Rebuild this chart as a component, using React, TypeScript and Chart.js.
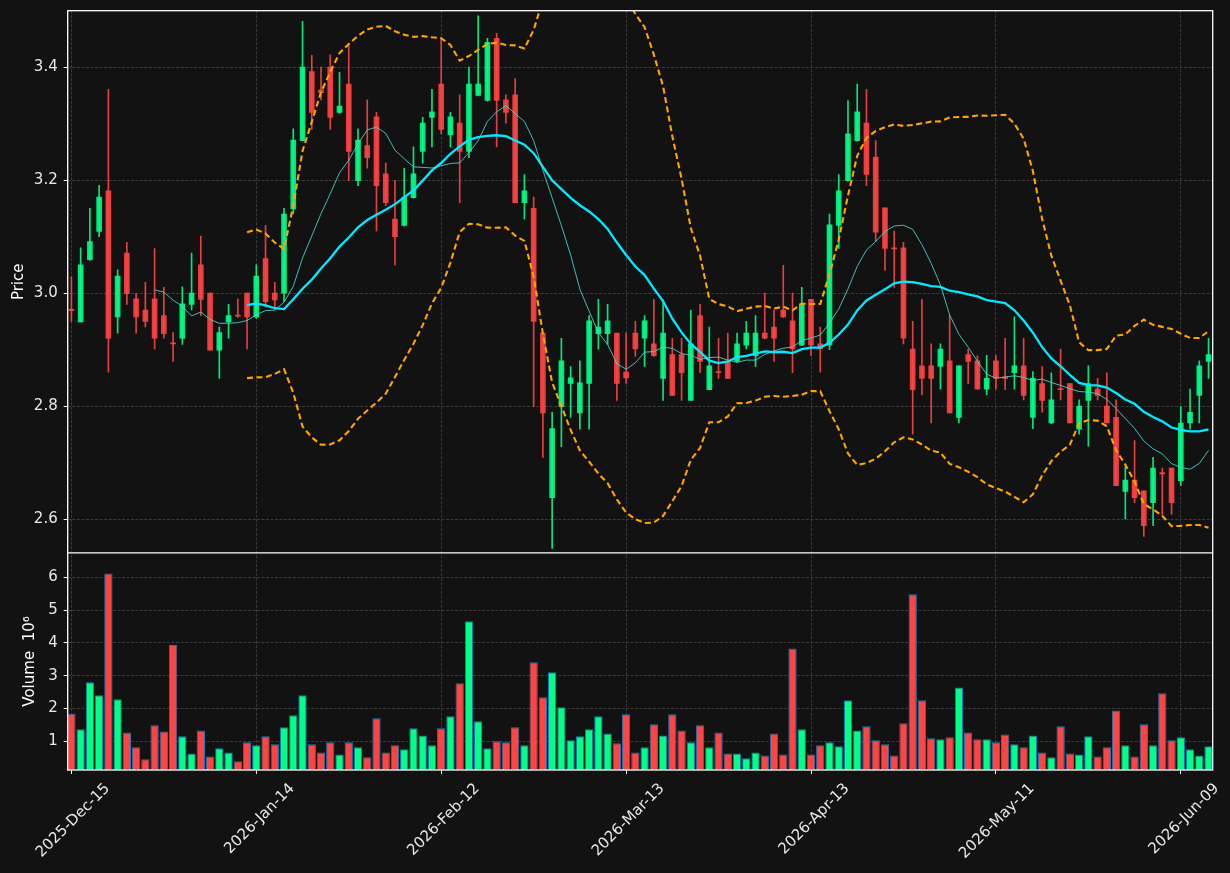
import React, { useEffect, useRef } from 'react';
import { Chart, registerables } from 'chart.js';

Chart.register(...registerables);

// ---- data (prices in currency units, volume in millions) ----
const tickLabels = ['2025-Dec-15', '2026-Jan-14', '2026-Feb-12', '2026-Mar-13', '2026-Apr-13', '2026-May-11', '2026-Jun-09'];
const tickIndex = [0, 20, 40, 60, 80, 100, 120];
const priceTicks = [2.6, 2.8, 3.0, 3.2, 3.4];
const volumeTicks = [1, 2, 3, 4, 5, 6];

const opens = [
  2.971, 2.949, 3.059, 3.109, 3.181, 2.958, 3.071, 2.990, 2.970, 2.990,
  2.960, 2.911, 2.920, 2.980, 3.050, 3.000, 2.899, 2.949, 2.960, 3.000,
  2.958, 3.061, 3.000, 3.000, 3.149, 3.270, 3.392, 3.360, 3.400, 3.320,
  3.370, 3.199, 3.261, 3.312, 3.211, 3.131, 3.120, 3.169, 3.251, 3.311,
  3.370, 3.280, 3.301, 3.251, 3.350, 3.341, 3.451, 3.342, 3.351, 3.160,
  3.150, 2.929, 2.638, 2.799, 2.840, 2.788, 2.840, 2.928, 2.928, 2.929,
  2.860, 2.929, 2.920, 2.910, 2.849, 2.891, 2.891, 2.810, 2.960, 2.829,
  2.860, 2.879, 2.879, 2.908, 2.889, 2.929, 2.940, 2.970, 2.951, 2.908,
  2.989, 2.910, 2.908, 3.120, 3.199, 3.270, 3.301, 3.241, 3.151, 3.079,
  3.080, 2.901, 2.871, 2.871, 2.870, 2.880, 2.780, 2.891, 2.880, 2.830,
  2.880, 2.850, 2.859, 2.871, 2.780, 2.840, 2.770, 2.830, 2.840, 2.759,
  2.810, 2.830, 2.800, 2.780, 2.649, 2.669, 2.650, 2.629, 2.681, 2.690,
  2.668, 2.770, 2.819, 2.879,
];
const highs = [
  3.029, 3.080, 3.150, 3.191, 3.361, 3.041, 3.090, 2.999, 3.019, 3.079,
  3.010, 2.930, 3.011, 3.071, 3.101, 3.000, 2.940, 2.980, 2.990, 3.000,
  3.050, 3.120, 3.019, 3.150, 3.291, 3.481, 3.421, 3.400, 3.422, 3.391,
  3.441, 3.291, 3.342, 3.320, 3.230, 3.199, 3.221, 3.259, 3.311, 3.361,
  3.453, 3.320, 3.351, 3.400, 3.491, 3.451, 3.460, 3.351, 3.380, 3.210,
  3.170, 2.929, 2.789, 2.920, 2.870, 2.880, 2.960, 2.989, 2.980, 2.929,
  2.929, 2.950, 2.960, 2.989, 2.988, 2.920, 2.920, 2.970, 2.980, 2.940,
  2.920, 2.929, 2.929, 2.950, 2.960, 3.000, 2.970, 3.049, 3.000, 3.010,
  2.989, 2.940, 3.140, 3.210, 3.341, 3.370, 3.361, 3.270, 3.151, 3.110,
  3.090, 2.950, 2.989, 2.910, 2.910, 2.960, 2.871, 2.901, 2.889, 2.890,
  2.890, 2.920, 2.958, 2.920, 2.861, 2.870, 2.859, 2.901, 2.840, 2.811,
  2.871, 2.849, 2.859, 2.811, 2.693, 2.739, 2.650, 2.709, 2.690, 2.690,
  2.799, 2.830, 2.880, 2.920,
];
const lows = [
  2.950, 2.949, 3.058, 3.100, 2.860, 2.929, 2.980, 2.929, 2.940, 2.901,
  2.920, 2.879, 2.909, 2.970, 2.960, 2.899, 2.849, 2.920, 2.957, 2.901,
  2.955, 2.975, 2.975, 2.985, 3.140, 3.270, 3.290, 3.342, 3.290, 3.318,
  3.199, 3.190, 3.221, 3.110, 3.155, 3.050, 3.119, 3.168, 3.230, 3.259,
  3.282, 3.259, 3.160, 3.240, 3.349, 3.340, 3.259, 3.301, 3.160, 3.131,
  2.799, 2.709, 2.548, 2.728, 2.780, 2.759, 2.759, 2.901, 2.909, 2.810,
  2.840, 2.888, 2.870, 2.888, 2.810, 2.819, 2.810, 2.810, 2.859, 2.829,
  2.849, 2.849, 2.878, 2.901, 2.870, 2.919, 2.879, 2.957, 2.859, 2.907,
  2.889, 2.860, 2.900, 3.079, 3.198, 3.269, 3.190, 3.091, 3.040, 3.010,
  2.910, 2.750, 2.820, 2.770, 2.830, 2.788, 2.770, 2.840, 2.830, 2.820,
  2.830, 2.829, 2.830, 2.811, 2.760, 2.789, 2.769, 2.811, 2.770, 2.750,
  2.729, 2.811, 2.770, 2.659, 2.600, 2.629, 2.569, 2.588, 2.608, 2.608,
  2.659, 2.759, 2.770, 2.849,
];
const closes = [
  2.969, 3.050, 3.091, 3.170, 2.920, 3.030, 2.999, 2.958, 2.950, 2.920,
  2.928, 2.910, 2.981, 3.000, 2.989, 2.899, 2.930, 2.960, 2.959, 2.958,
  3.030, 2.985, 2.988, 3.140, 3.271, 3.400, 3.320, 3.355, 3.311, 3.331,
  3.251, 3.271, 3.240, 3.190, 3.160, 3.100, 3.170, 3.211, 3.301, 3.321,
  3.290, 3.312, 3.251, 3.370, 3.370, 3.444, 3.341, 3.320, 3.160, 3.181,
  2.950, 2.788, 2.760, 2.880, 2.850, 2.841, 2.951, 2.940, 2.951, 2.840,
  2.850, 2.901, 2.951, 2.889, 2.929, 2.819, 2.859, 2.910, 2.879, 2.871,
  2.859, 2.849, 2.910, 2.929, 2.929, 2.920, 2.920, 2.958, 2.901, 2.981,
  2.908, 2.901, 3.121, 3.181, 3.282, 3.321, 3.210, 3.108, 3.079, 3.078,
  2.920, 2.829, 2.849, 2.849, 2.901, 2.788, 2.871, 2.879, 2.830, 2.849,
  2.849, 2.849, 2.871, 2.819, 2.849, 2.810, 2.811, 2.829, 2.770, 2.800,
  2.840, 2.819, 2.770, 2.659, 2.669, 2.638, 2.588, 2.690, 2.680, 2.629,
  2.770, 2.789, 2.871, 2.891,
];
const volumes = [
  1.84, 1.37, 2.80, 2.40, 6.11, 2.28, 1.27, 0.82, 0.45, 1.49,
  1.30, 3.93, 1.15, 0.63, 1.33, 0.54, 0.79, 0.66, 0.39, 0.97,
  0.88, 1.15, 0.91, 1.43, 1.79, 2.40, 0.91, 0.66, 0.97, 0.60,
  0.97, 0.82, 0.51, 1.70, 0.66, 0.88, 0.76, 1.40, 1.18, 0.88,
  1.40, 1.76, 2.77, 4.66, 1.61, 0.79, 1.00, 0.97, 1.43, 0.88,
  3.41, 2.34, 3.10, 2.04, 1.03, 1.15, 1.37, 1.76, 1.24, 0.94,
  1.82, 0.66, 0.82, 1.52, 1.18, 1.82, 1.33, 0.97, 1.49, 0.82,
  1.27, 0.63, 0.63, 0.48, 0.66, 0.57, 1.24, 0.60, 3.83, 1.37,
  0.60, 0.88, 0.97, 0.85, 2.25, 1.33, 1.46, 1.03, 0.91, 0.57,
  1.55, 5.48, 2.25, 1.09, 1.06, 1.12, 2.64, 1.27, 1.06, 1.06,
  0.97, 1.21, 0.91, 0.82, 1.18, 0.66, 0.51, 1.46, 0.63, 0.60,
  1.15, 0.54, 0.82, 1.94, 0.88, 0.54, 1.52, 0.88, 2.46, 1.03,
  1.12, 0.76, 0.57, 0.85,
];

// ---- derived indicators (from closes, as the original chart does) ----
function sma(values: number[], n: number): (number | null)[] {
  return values.map((_, i) => {
    if (i < n - 1) return null;
    let s = 0;
    for (let k = i - n + 1; k <= i; k++) s += values[k];
    return s / n;
  });
}
function bollinger(values: number[], n: number, k: number) {
  const mid = sma(values, n);
  const upper: (number | null)[] = [];
  const lower: (number | null)[] = [];
  values.forEach((_, i) => {
    const m = mid[i];
    if (m === null) { upper.push(null); lower.push(null); return; }
    let v = 0;
    for (let j = i - n + 1; j <= i; j++) v += (values[j] - m) * (values[j] - m);
    const sd = Math.sqrt(v / n);
    upper.push(m + k * sd);
    lower.push(m - k * sd);
  });
  return { upper, lower };
}

const UP = 'rgba(0,255,136,0.9)';
const DOWN = 'rgba(255,68,68,0.9)';
const VOL_UP = '#00ff88';
const VOL_DOWN = '#ff4444';
const BG = '#121212';
const GRID = '#3a3a3a';
const TEXT = '#e8e8e8';

const framePlugin = {
  id: 'panelFrames',
  afterDraw(chart: any) {
    const { ctx, chartArea } = chart;
    const yP = chart.scales.yPrice;
    ctx.save();
    ctx.strokeStyle = '#ffffff';
    ctx.lineWidth = 1.3;
    ctx.strokeRect(chartArea.left, chartArea.top, chartArea.right - chartArea.left, chartArea.bottom - chartArea.top);
    ctx.beginPath();
    ctx.moveTo(chartArea.left, yP.bottom);
    ctx.lineTo(chartArea.right, yP.bottom);
    ctx.stroke();
    ctx.restore();
  },
};

export default function App() {
  const ref = useRef<HTMLCanvasElement | null>(null);

  useEffect(() => {
    document.body.style.margin = '0';
    document.body.style.background = BG;
    const idx = closes.map((_, i) => i);
    const isUp = (i: number) => closes[i] >= opens[i];
    const ma10 = sma(closes, 10);
    const ma20 = sma(closes, 20);
    const bb = bollinger(closes, 20, 2);
    const toPts = (arr: (number | null)[]) => idx.filter((i) => arr[i] !== null).map((i) => ({ x: i, y: arr[i] as number }));

    Chart.defaults.font.family = "'DejaVu Sans', sans-serif";
    Chart.defaults.font.size = 15;
    Chart.defaults.color = TEXT;

    const lineBase = { type: 'line' as const, yAxisID: 'yPrice', pointRadius: 0, tension: 0, fill: false, order: 0 };

    const chart = new Chart(ref.current as HTMLCanvasElement, {
      type: 'bar',
      data: {
        datasets: [
          {
            type: 'bar', label: 'Volume', yAxisID: 'yVol',
            data: idx.map((i) => ({ x: i, y: volumes[i] })) as any,
            backgroundColor: idx.map((i) => (isUp(i) ? VOL_UP : VOL_DOWN)),
            borderColor: '#1f77b4', borderWidth: 1,
            barPercentage: 0.9, categoryPercentage: 1, grouped: false, order: 3,
          },
          {
            type: 'bar', label: 'Wick', yAxisID: 'yPrice',
            data: idx.map((i) => ({ x: i, y: [lows[i], highs[i]] })) as any,
            backgroundColor: idx.map((i) => (isUp(i) ? UP : DOWN)),
            barThickness: 1, grouped: false, order: 2,
          },
          {
            type: 'bar', label: 'Body', yAxisID: 'yPrice',
            data: idx.map((i) => ({ x: i, y: [Math.min(opens[i], closes[i]), Math.max(opens[i], closes[i])] })) as any,
            backgroundColor: idx.map((i) => (isUp(i) ? UP : DOWN)),
            barThickness: 5, minBarLength: 1.2, grouped: false, order: 1,
          },
          { ...lineBase, label: 'MA10', data: toPts(ma10) as any, borderColor: 'rgba(72,220,210,0.85)', borderWidth: 1 },
          { ...lineBase, label: 'MA20', data: toPts(ma20) as any, borderColor: '#00eaff', borderWidth: 2.3 },
          { ...lineBase, label: 'BB upper', data: toPts(bb.upper) as any, borderColor: '#ffa500', borderWidth: 2.1, borderDash: [6, 3.5] },
          { ...lineBase, label: 'BB lower', data: toPts(bb.lower) as any, borderColor: '#ffa500', borderWidth: 2.1, borderDash: [6, 3.5] },
        ] as any,
      },
      options: {
        animation: false,
        responsive: false,
        maintainAspectRatio: false,
        events: [],
        layout: { padding: { left: 0, right: 17.3, top: 10.7, bottom: 0 } },
        plugins: { legend: { display: false }, tooltip: { enabled: false } },
        scales: {
          x: {
            type: 'linear', min: -0.4, max: 123.45, offset: false,
            afterBuildTicks: (s: any) => { s.ticks = tickIndex.map((v) => ({ value: v })); },
            afterFit: (s: any) => { s.height = 103; s.paddingLeft = 0; s.paddingRight = 0; },
            ticks: {
              autoSkip: false, minRotation: 45, maxRotation: 45, labelOffset: 36, padding: 6, color: TEXT,
              callback: (v: any) => { const k = tickIndex.indexOf(Number(v)); return k >= 0 ? tickLabels[k] : ''; },
            },
            grid: { color: GRID, offset: false, tickColor: '#ffffff', tickLength: 4, tickWidth: 1, tickBorderDash: [] },
            border: { display: false, dash: [3, 1.5] },
          },
          yVol: {
            type: 'linear', position: 'left', stack: 'panels', stackWeight: 217.1, weight: 0,
            min: 0.125, max: 6.74,
            afterBuildTicks: (s: any) => { s.ticks = volumeTicks.map((v) => ({ value: v })); },
            afterFit: (s: any) => { s.width = 67.7; s.paddingTop = 0; s.paddingBottom = 0; },
            ticks: { padding: 6, color: TEXT, callback: (v: any) => String(v) },
            grid: { color: GRID, tickColor: '#ffffff', tickLength: 4, tickWidth: 1, tickBorderDash: [] },
            border: { display: false, dash: [3, 1.5] },
            title: { display: true, text: 'Volume  10\u2076', color: '#ffffff', padding: { top: 21, bottom: 0 } },
          },
          yPrice: {
            type: 'linear', position: 'left', stack: 'panels', stackWeight: 542.2, weight: 1,
            min: 2.54, max: 3.5,
            afterBuildTicks: (s: any) => { s.ticks = priceTicks.map((v) => ({ value: v })); },
            afterFit: (s: any) => { s.width = 67.7; s.paddingTop = 0; s.paddingBottom = 0; },
            ticks: { padding: 6, color: TEXT, callback: (v: any) => Number(v).toFixed(1) },
            grid: { color: GRID, tickColor: '#ffffff', tickLength: 4, tickWidth: 1, tickBorderDash: [] },
            border: { display: false, dash: [3, 1.5] },
            title: { display: true, text: 'Price', color: '#ffffff', padding: { top: 10, bottom: 0 } },
          },
        } as any,
      },
      plugins: [framePlugin],
    });
    return () => chart.destroy();
  }, []);

  return (
    <div style={{ position: 'fixed', left: 0, top: 0, width: 1230, height: 873, background: BG }}>
      <canvas ref={ref} width={1230} height={873} style={{ display: 'block', width: 1230, height: 873 }} />
    </div>
  );
}
